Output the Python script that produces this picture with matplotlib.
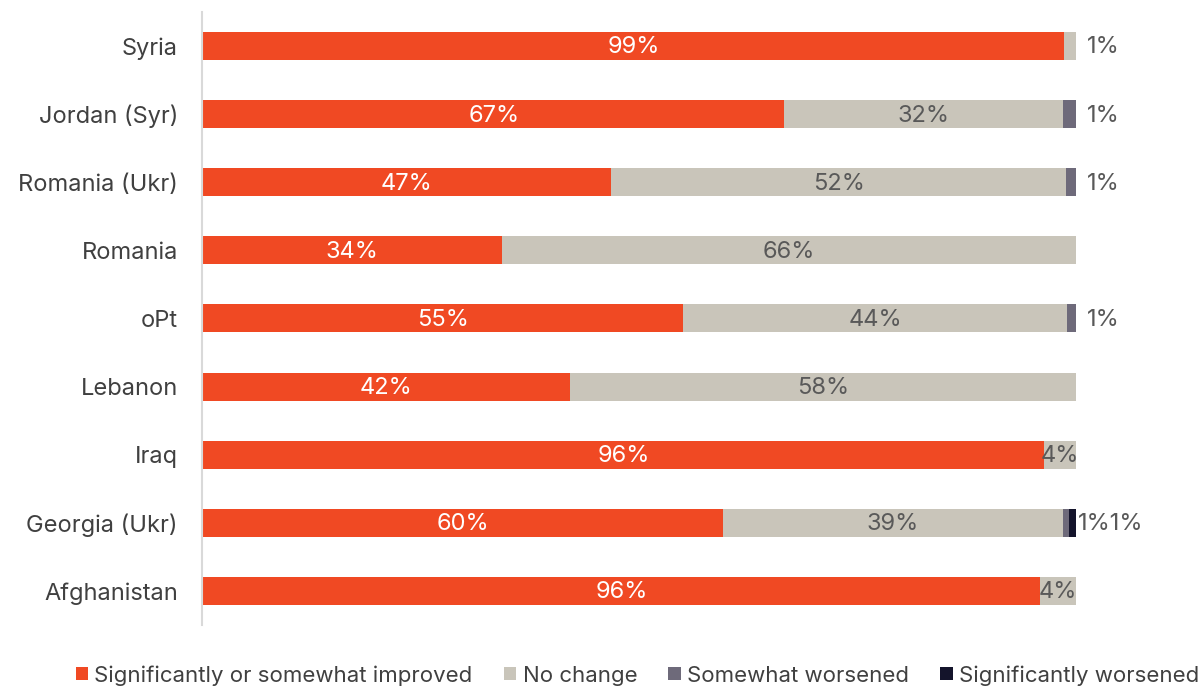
import matplotlib.pyplot as plt
from matplotlib.patches import Patch
import numpy as np

plt.rcParams['font.family'] = ['Inter', 'DejaVu Sans']

countries = ["Syria", "Jordan (Syr)", "Romania (Ukr)", "Romania", "oPt",
             "Lebanon", "Iraq", "Georgia (Ukr)", "Afghanistan"]
improved = [98.6, 66.6, 46.7, 34.2, 55.0, 42.0, 96.3, 59.6, 95.9]
no_change = [1.4, 31.9, 52.2, 65.8, 44.0, 58.0, 3.7, 38.9, 4.1]
somewhat_worse = [0.0, 1.5, 1.1, 0.0, 1.0, 0.0, 0.0, 0.7, 0.0]
signif_worse = [0.0, 0.0, 0.0, 0.0, 0.0, 0.0, 0.0, 0.8, 0.0]
# labels as printed on the chart
improved_lbl = ["99%", "67%", "47%", "34%", "55%", "42%", "96%", "60%", "96%"]
no_change_lbl = ["1%", "32%", "52%", "66%", "44%", "58%", "4%", "39%", "4%"]
worse_lbl = ["", "1%", "1%", "", "1%", "", "", "1%", ""]
signif_lbl = ["", "", "", "", "", "", "", "1%", ""]

series = [improved, no_change, somewhat_worse, signif_worse]
names = ["Significantly or somewhat improved", "No change",
         "Somewhat worsened", "Significantly worsened"]
colors = ["#F04923", "#C9C5BA", "#6E6A7A", "#14142B"]
txt = "#595959"
fs = 17

fig = plt.figure(figsize=(12.03, 6.89), dpi=100)
ax = fig.add_axes([203 / 1203, 0.093, (1076 - 203) / 1203, 0.8896])

for s in ["top", "right", "bottom"]:
    ax.spines[s].set_visible(False)
ax.spines["left"].set_color("#D9D9D9")
ax.spines["left"].set_linewidth(1.5)
ax.spines["left"].set_position(("outward", 1))

y = np.arange(len(countries))
left = np.zeros(len(countries))
for vals, col in zip(series, colors):
    vals = np.array(vals)
    ax.barh(y, vals, left=left, height=0.41, color=col)
    left = left + vals

for i in range(len(countries)):
    ax.text(improved[i] / 2, y[i] + 0.02, improved_lbl[i], ha="center",
            va="center", color="white", fontsize=fs)
    outside = ""
    if no_change[i] >= 3:
        ax.text(improved[i] + no_change[i] / 2, y[i] + 0.02, no_change_lbl[i],
                ha="center", va="center", color=txt, fontsize=fs)
    else:
        outside += no_change_lbl[i]
    outside += worse_lbl[i] + signif_lbl[i]
    if outside:
        xpos = 100.2 if signif_lbl[i] else 101.2
        ax.text(xpos, y[i] + 0.02, outside, ha="left", va="center", color=txt,
                fontsize=fs)

ax.set_xlim(0, 100)
ax.set_ylim(len(countries) - 0.5, -0.5)
ax.set_yticks(y)
ax.set_yticklabels(countries)
ax.tick_params(axis="y", length=0, pad=17, labelsize=fs, labelcolor="#404040")
ax.set_xticks([])

handles = [Patch(facecolor=c, edgecolor="none") for c in colors]
fig.legend(handles, names, loc="lower center", ncol=4, frameon=False,
           fontsize=16, labelcolor="#404040", handlelength=0.55,
           handleheight=0.55, handletextpad=0.3, columnspacing=1.4,
           bbox_to_anchor=(0.53, -0.024))

fig.savefig("out.png", dpi=100)
